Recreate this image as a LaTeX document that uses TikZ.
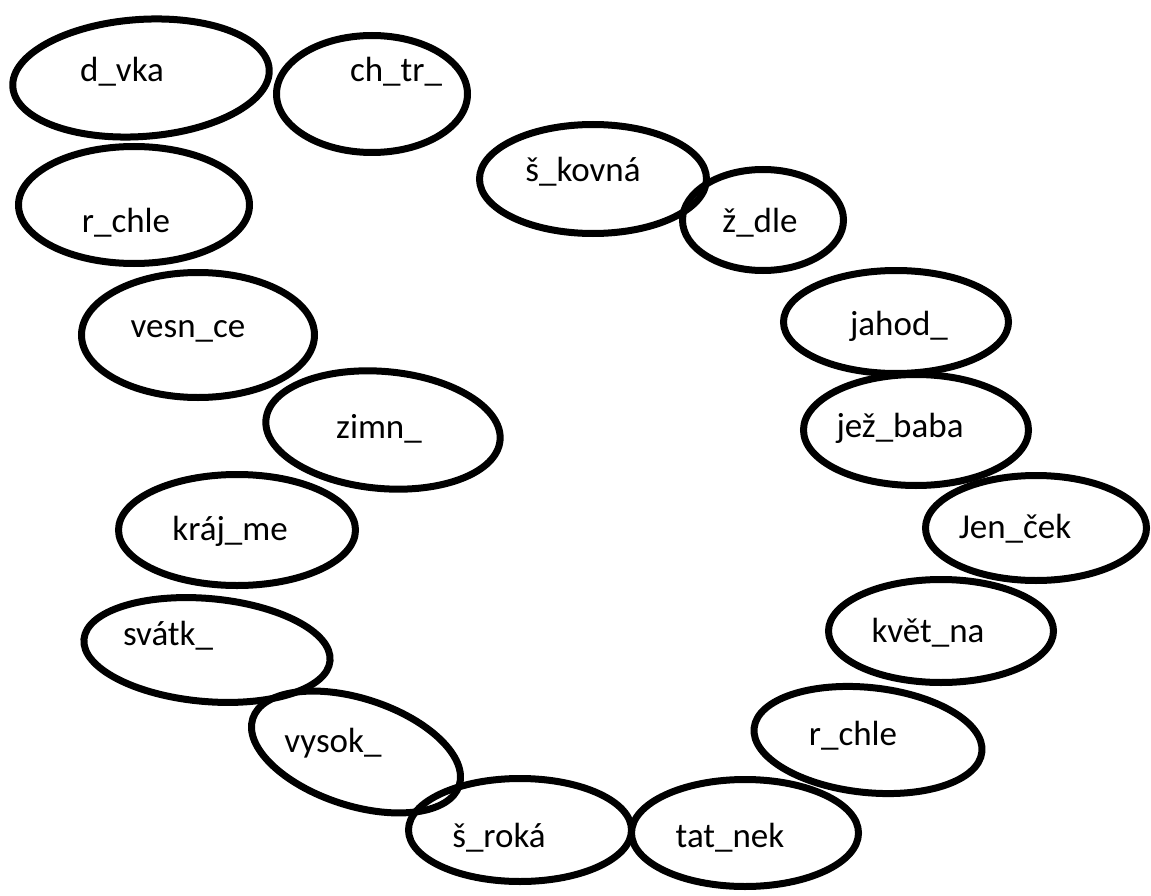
\documentclass[tikz,border=0pt]{standalone}
\usepackage{fontspec}
\setmainfont{Carlito}
\usetikzlibrary{shapes.geometric}
\tikzset{
  bubble/.style={draw, ellipse, line width=7pt, inner sep=0pt},
  word/.style={anchor=base, font=\fontsize{35}{35}\selectfont, inner sep=0pt}
}
\begin{document}
\begin{tikzpicture}[x=1pt,y=-1pt]
  \useasboundingbox (0,0) rectangle (1151,896);
  % left arc
  \node[bubble, minimum width=257, minimum height=117, rotate=4] (dvka) at (141,78) {};
  \node[word] (tdvka) at (122,82) {d\_vka};
  \node[bubble, minimum width=191, minimum height=117] (chtr) at (372,94) {};
  \node[word] (tchtr) at (396,82) {ch\_tr\_};
  \node[bubble, minimum width=231, minimum height=117] (rchleL) at (134,205) {};
  \node[word] (trchleL) at (126,233) {r\_chle};
  \node[bubble, minimum width=233, minimum height=125] (vesnce) at (198,335) {};
  \node[word] (tvesnce) at (188,337) {vesn\_ce};
  \node[bubble, minimum width=235, minimum height=117, rotate=-5] (zimn) at (383,430) {};
  \node[word] (tzimn) at (379,438) {zimn\_};
  \node[bubble, minimum width=237, minimum height=111] (krajme) at (237,530) {};
  \node[word] (tkrajme) at (230,540) {kráj\_me};
  \node[bubble, minimum width=247, minimum height=103, rotate=-5] (svatk) at (207,650) {};
  \node[word] (tsvatk) at (168,645) {svátk\_};
  \node[bubble, minimum width=217, minimum height=107, rotate=-18] (vysok) at (356,752) {};
  \node[word] (tvysok) at (333,752) {vysok\_};
  \node[bubble, minimum width=223, minimum height=103] (siroka) at (520,830) {};
  \node[word] (tsiroka) at (499,847) {š\_roká};
  % right arc
  \node[bubble, minimum width=227, minimum height=109] (sikovna) at (593,179) {};
  \node[word] (tsikovna) at (583,182) {š\_kovná};
  \node[bubble, minimum width=161, minimum height=101] (zidle) at (763,220) {};
  \node[word] (tzidle) at (760,233) {ž\_dle};
  \node[bubble, minimum width=225, minimum height=103] (jahody) at (896,322) {};
  \node[word] (tjahody) at (899,335) {jahod\_};
  \node[bubble, minimum width=225, minimum height=111] (jezibaba) at (916,430) {};
  \node[word] (tjezibaba) at (900,437) {jež\_baba};
  \node[bubble, minimum width=221, minimum height=105] (jenicek) at (1036,528) {};
  \node[word] (tjenicek) at (1015,538) {Jen\_ček};
  \node[bubble, minimum width=225, minimum height=103] (kvetina) at (941,631) {};
  \node[word] (tkvetina) at (928,642) {květ\_na};
  \node[bubble, minimum width=229, minimum height=105, rotate=-6] (rychleR) at (868,740) {};
  \node[word] (trychleR) at (853,745) {r\_chle};
  \node[bubble, minimum width=227, minimum height=107] (tatinek) at (745,833) {};
  \node[word] (ttatinek) at (730,847) {tat\_nek};
\end{tikzpicture}
\end{document}
